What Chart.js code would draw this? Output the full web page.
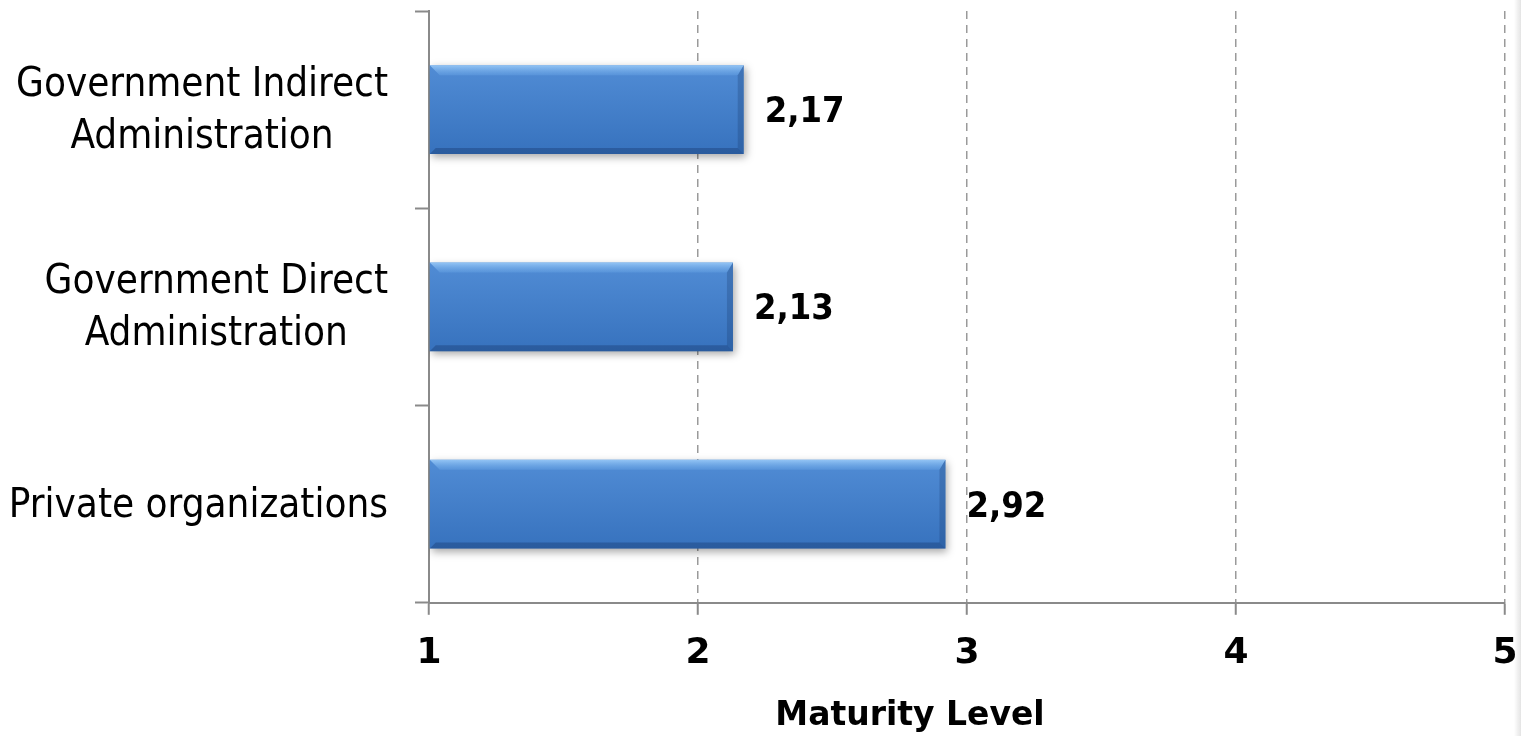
<!DOCTYPE html>
<html>
<head>
<meta charset="utf-8">
<title>Maturity Level</title>
<script src="https://cdn.jsdelivr.net/npm/chart.js@4.4.1/dist/chart.umd.min.js"></script>
<style>
    html, body { margin: 0; padding: 0; background: #fff; }
    #wrap { position: relative; width: 1521px; height: 736px; }
    #wrap:after {
        content: ''; position: absolute; right: 0; top: 0; width: 7px; height: 100%;
        background: linear-gradient(to right, rgba(255,255,255,0), #e4e4e4);
    }
</style>
</head>
<body>
<div id="wrap"><canvas id="maturity-bar"></canvas></div>
<script>
(function () {
    "use strict";

    const categories = [
        ['Government Indirect', 'Administration'],
        ['Government Direct', 'Administration'],
        'Private organizations'
    ];
    const maturity = [2.17, 2.13, 2.92];
    const levelTicks = [1, 2, 3, 4, 5];
    const axisTitle = 'Maturity Level';

    const axisGray = '#8a8a8a';
    const labelFont = '"DejaVu Sans Condensed", "DejaVu Sans", sans-serif';

    /* category labels (each block right-aligned, lines centred inside it) and the axis title */
    const axisLabels = {
        id: 'axisLabels',
        afterDraw(chart) {
            const ctx = chart.ctx;
            const yScale = chart.scales.y;
            const area = chart.chartArea;
            const right = yScale.right - 41;
            const lineH = 52;
            ctx.save();
            ctx.font = '40px ' + labelFont;
            ctx.fillStyle = '#000';
            ctx.textAlign = 'center';
            ctx.textBaseline = 'middle';
            categories.forEach((label, i) => {
                const lines = Array.isArray(label) ? label : [label];
                const widest = Math.max(...lines.map(l => ctx.measureText(l).width));
                const cx = right - widest / 2;
                const cy = yScale.getPixelForTick(i) + 2;
                lines.forEach((l, j) => {
                    ctx.fillText(l, cx, cy + (j - (lines.length - 1) / 2) * lineH);
                });
            });

            ctx.font = 'bold 33px "DejaVu Sans", sans-serif';
            ctx.fillText(axisTitle, (area.left + area.right) / 2 - 57, chart.height - 20);
            ctx.restore();
        }
    };

    /* soft drop shadow, bevelled edges and value labels on the bars */
    const bevelBars = {
        id: 'bevelBars',
        beforeDatasetsDraw(chart) {
            const ctx = chart.ctx;
            ctx.save();
            ctx.shadowColor = 'rgba(0, 0, 0, 0.35)';
            ctx.shadowBlur = 8;
            ctx.shadowOffsetX = 2;
            ctx.shadowOffsetY = 3;
        },
        afterDatasetsDraw(chart) {
            const ctx = chart.ctx;
            ctx.restore();
            const meta = chart.getDatasetMeta(0);
            ctx.save();
            meta.data.forEach((bar, i) => {
                const p = bar.getProps(['x', 'y', 'base', 'height'], true);
                const top = p.y - p.height / 2;
                const bottom = p.y + p.height / 2;
                const l = p.base, r = p.x;
                const bt = 10, bb = 6;

                const body = ctx.createLinearGradient(0, top, 0, bottom);
                body.addColorStop(0, 'rgba(255,255,255,0.10)');
                body.addColorStop(1, 'rgba(0,0,30,0.10)');
                ctx.fillStyle = body;
                ctx.fillRect(l, top, r - l, bottom - top);

                const hi = ctx.createLinearGradient(0, top, 0, top + bt);
                hi.addColorStop(0, 'rgba(170,215,255,0.75)');
                hi.addColorStop(1, 'rgba(120,180,240,0.25)');
                ctx.fillStyle = hi;
                ctx.beginPath();
                ctx.moveTo(l, top);
                ctx.lineTo(r, top);
                ctx.lineTo(r - bb, top + bt);
                ctx.lineTo(l + bt, top + bt);
                ctx.closePath();
                ctx.fill();

                ctx.fillStyle = 'rgba(20,50,100,0.35)';
                ctx.beginPath();
                ctx.moveTo(l, bottom);
                ctx.lineTo(r, bottom);
                ctx.lineTo(r - bb, bottom - bb);
                ctx.lineTo(l + bb, bottom - bb);
                ctx.closePath();
                ctx.fill();

                ctx.fillStyle = 'rgba(20,50,100,0.25)';
                ctx.beginPath();
                ctx.moveTo(r, top);
                ctx.lineTo(r, bottom);
                ctx.lineTo(r - bb, bottom - bb);
                ctx.lineTo(r - bb, top + bt);
                ctx.closePath();
                ctx.fill();

                ctx.font = 'bold 36px ' + labelFont;
                ctx.fillStyle = '#000';
                ctx.textAlign = 'left';
                ctx.textBaseline = 'middle';
                ctx.fillText(maturity[i].toFixed(2).replace('.', ','), r + 21, p.y + 3);
            });
            ctx.restore();
        }
    };

    const data = {
        labels: categories,
        datasets: [{
            label: axisTitle,
            data: maturity,
            base: levelTicks[0],
            backgroundColor: '#3d7fd0',
            borderWidth: 0,
            barPercentage: 0.9,
            categoryPercentage: 0.5
        }]
    };

    const config = {
        type: 'bar',
        data: data,
        options: {
            indexAxis: 'y',
            responsive: true,
            maintainAspectRatio: false,
            animation: false,
            // bottom padding leaves room for the axis title drawn by axisLabels
            layout: { padding: { top: 11, right: 0, bottom: 44, left: 0 } },
            plugins: {
                legend: { display: false },
                tooltip: { enabled: false }
            },
            scales: {
                x: {
                    type: 'linear',
                    min: levelTicks[0],
                    max: levelTicks[levelTicks.length - 1],
                    afterBuildTicks(scale) {
                        scale.ticks = levelTicks.map(v => ({ value: v }));
                    },
                    // tick padding would otherwise widen the side gutters too
                    afterFit(scale) {
                        scale.paddingLeft = 0;
                        scale.paddingRight = 16;
                    },
                    grid: {
                        color: '#9a9a9a',
                        lineWidth: 1.5,
                        tickLength: 12,
                        tickColor: axisGray,
                        tickWidth: 2,
                        tickBorderDash: []
                    },
                    border: { color: axisGray, width: 2, dash: [8, 6] },
                    ticks: {
                        color: '#000',
                        padding: 17,
                        font: { family: '"DejaVu Sans", sans-serif', size: 36, weight: 'bold' }
                    }
                },
                y: {
                    afterFit(scale) { scale.width = 429; },
                    grid: {
                        offset: true,
                        drawOnChartArea: false,
                        tickLength: 14,
                        tickColor: axisGray,
                        tickWidth: 2
                    },
                    border: { color: axisGray, width: 2 },
                    ticks: { display: false }
                }
            }
        },
        plugins: [axisLabels, bevelBars]
    };

    new Chart(document.getElementById('maturity-bar'), config);
})();
</script>
</body>
</html>
